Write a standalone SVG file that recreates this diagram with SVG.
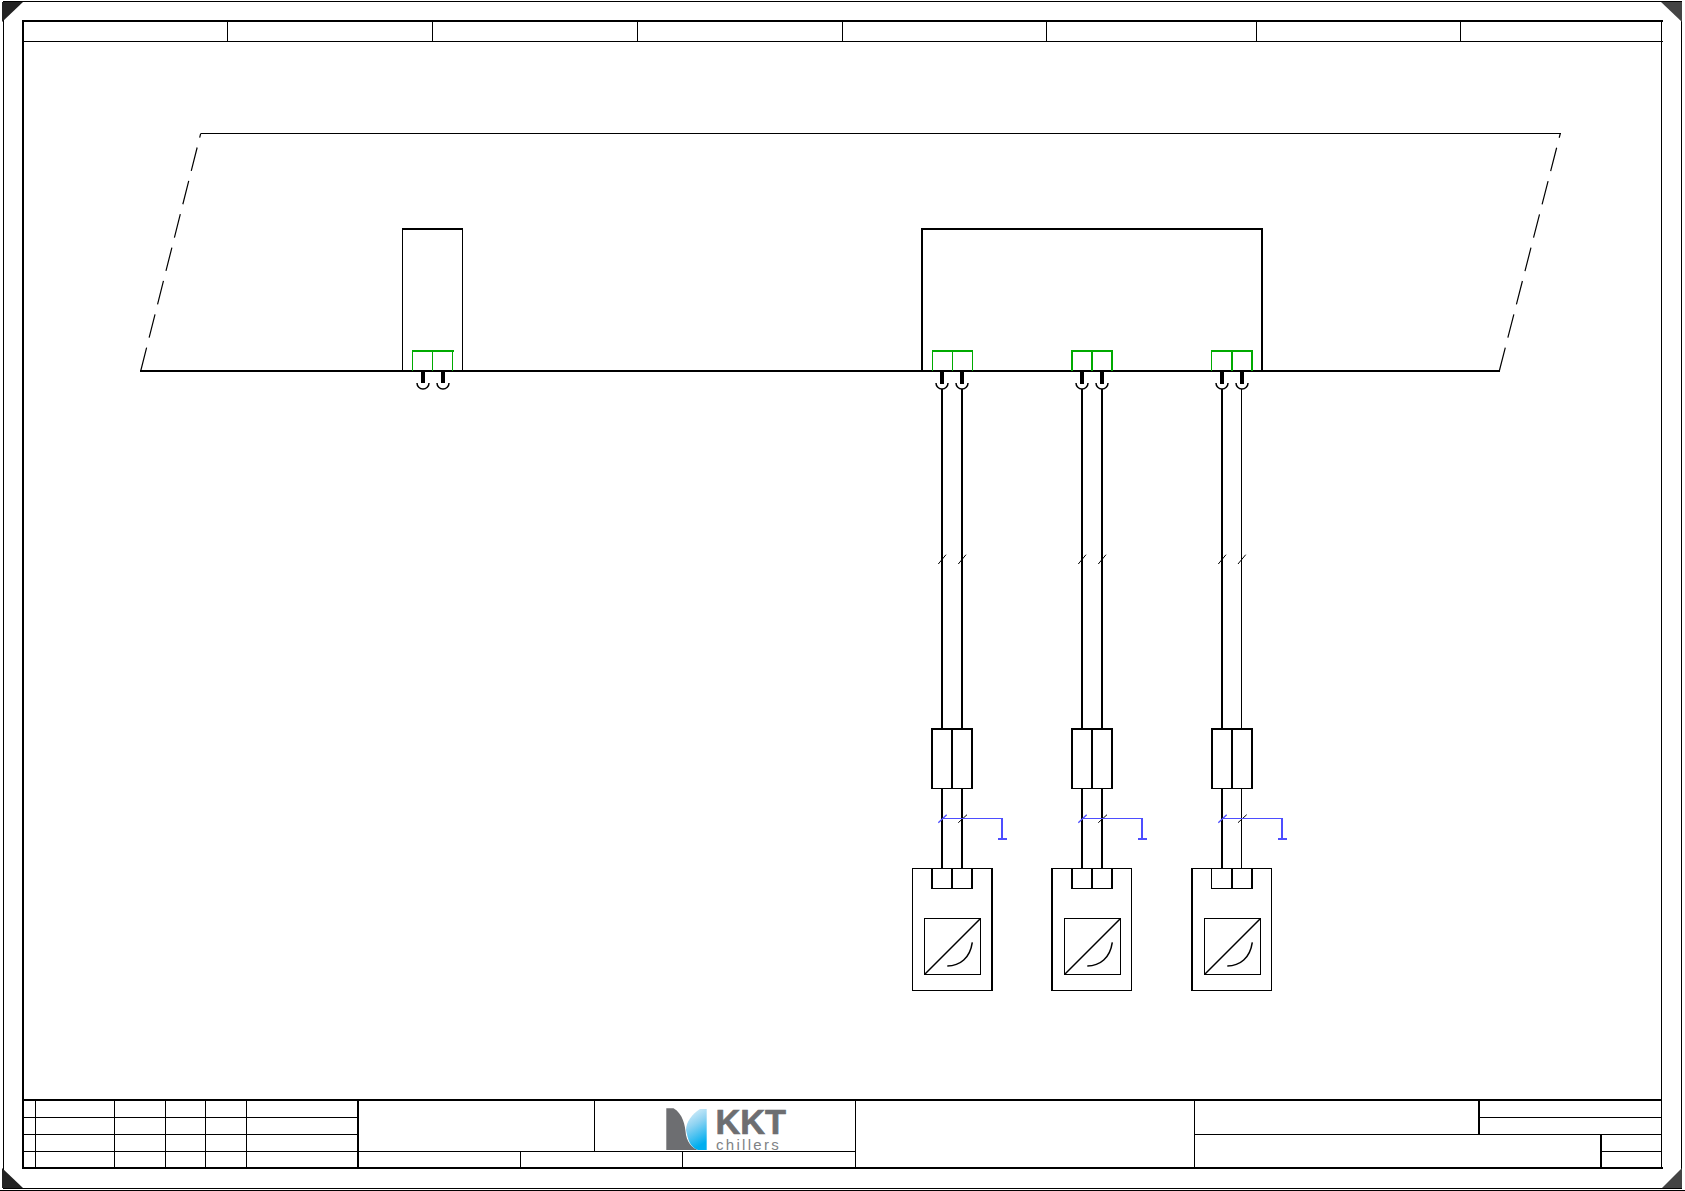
<svg xmlns="http://www.w3.org/2000/svg" width="1685" height="1191" viewBox="0 0 1685 1191">
<style>
.l{stroke:#000;fill:none;stroke-width:1;shape-rendering:crispEdges}
.t{stroke:#000;fill:none;stroke-width:2;shape-rendering:crispEdges}
.g{stroke:#00aa00;fill:none;stroke-width:1;shape-rendering:crispEdges}
.gt{stroke:#00aa00;fill:none;stroke-width:2;shape-rendering:crispEdges}
.b{stroke:#4d4dff;fill:none;stroke-width:2;shape-rendering:crispEdges}
.bn{stroke:#4d4dff;fill:none;stroke-width:1;shape-rendering:crispEdges}
.bs{stroke:#4d4dff;fill:none;stroke-width:1.3}
.s{stroke:#000;fill:none;stroke-width:1}
.c{stroke:#000;fill:none;stroke-width:1.5}
.h{stroke:#000;fill:none;stroke-width:4;shape-rendering:crispEdges}
</style>
<defs>
<linearGradient id="logoBlue" x1="0" y1="0" x2="0.3" y2="1">
<stop offset="0" stop-color="#e6f4fb"/><stop offset="0.45" stop-color="#8fd3f2"/><stop offset="1" stop-color="#00aeef"/>
</linearGradient>
</defs>
<rect width="1685" height="1191" fill="#fff"/>

<g id="sheet-frame">
<path class="l" d="M3.5 2V1188M3 1.5H1682M1681.5 2V1188M3 1188.5H1682M0 1190.5H1685"/>
<path d="M2 2H23L2 22Z" fill="#222"/>
<path d="M1661 2H1682V22Z" fill="#444"/>
<path d="M2 1168L23 1188H2Z" fill="#222"/>
<path d="M1662 1188L1682 1168V1188Z" fill="#444"/>
<path class="t" d="M22 21H1663M23 20V1169M22 1168H1663M22 1100H1662"/>
<path class="l" d="M1661.5 20V1169M23 41.5H1663"/>
<path class="l" d="M227.5 21V42M432.5 21V42M637.5 21V42M842.5 21V42M1046.5 21V42M1256.5 21V42M1460.5 21V42"/>
</g>

<g id="title-block">
<path class="l" d="M23 1117.5H358M23 1134.5H358M23 1151.5H855.5"/>
<path class="l" d="M35.5 1100V1168M114.5 1100V1168M165.5 1100V1168M205.5 1100V1168M246.5 1100V1168"/>
<path class="t" d="M358 1100V1168"/>
<path class="l" d="M594.5 1100V1151M855.5 1100V1168M520.5 1151V1168M682.5 1151V1168M1194.5 1100V1168"/>
<path class="l" d="M1479 1117.5H1662M1194.5 1134.5H1662M1601 1151.5H1662"/>
<path class="t" d="M1479 1100V1134M1601 1134V1168"/>
</g>

<g id="logo">
<path d="M666.3 1108.3H673.5C683 1114 685 1125 686 1135C688 1145 695 1149 698 1150H666.3Z" fill="#6d6e71"/>
<path d="M700 1109H706.7V1150H698C690 1147 688 1140 686 1130C686 1122 692 1114 700 1109Z" fill="url(#logoBlue)"/>
<text x="715.5" y="1134" font-family="'Liberation Sans',Arial,sans-serif" font-weight="700" font-size="34.3" fill="#6d6e71" stroke="#6d6e71" stroke-width="0.7">KKT</text>
<text x="716" y="1150" font-family="'Liberation Sans',Arial,sans-serif" font-size="15" letter-spacing="2.3" fill="#808285">chillers</text>
</g>

<g id="cabinet">
<path class="l" d="M200.5 133.5H1560.5"/>
<path class="t" d="M140 371H1500"/>
<path d="M140.7 371L200.7 133.5" stroke="#000" stroke-width="1.2" fill="none" stroke-dasharray="24.1 10.3"/>
<path d="M1499.3 371L1560.3 133.5" stroke="#000" stroke-width="1.2" fill="none" stroke-dasharray="24.1 10.3"/>
</g>

<g id="module-a">
<path class="t" d="M402 229H463"/>
<path class="l" d="M402.5 229V371M462.5 229V371"/>
</g>

<g id="module-b">
<path class="t" d="M921 229H1263M922 229V371M1262 229V371"/>
</g>

<g id="terminal-a">
<path class="gt" d="M412 351H454"/>
<path class="g" d="M412.5 351V371M432.5 351V371M452.5 351V371"/>
<path class="h" d="M423 372V383M443 372V383"/>
<path class="c" d="M417 383A6 6 0 0 0 429 383M437 383A6 6 0 0 0 449 383"/>
</g>

<g id="terminal-b1">
<path class="gt" d="M932 351H973"/>
<path class="g" d="M932.5 351V371M952.5 351V371M972.5 351V371"/>
<path class="h" d="M942 372V384M962 372V384"/>
<path class="c" d="M936 383A6 6 0 0 0 948 383M956 383A6 6 0 0 0 968 383"/>
</g>

<g id="terminal-b2">
<path class="gt" d="M1071 351H1113M1072 351V371M1092 351V371M1112 351V371"/>
<path class="h" d="M1082 372V384M1102 372V384"/>
<path class="c" d="M1076 383A6 6 0 0 0 1088 383M1096 383A6 6 0 0 0 1108 383"/>
</g>

<g id="terminal-b3">
<path class="gt" d="M1211 351H1253M1232 351V371M1252 351V371"/>
<path class="g" d="M1211.5 351V371"/>
<path class="h" d="M1222 372V384M1242 372V384"/>
<path class="c" d="M1216 383A6 6 0 0 0 1228 383M1236 383A6 6 0 0 0 1248 383"/>
</g>

<g id="connectors">
<path class="t" d="M942 389V729M962 389V729M942 788V869M962 788V869"/>
<path class="t" d="M1082 389V729M1102 389V729M1082 788V869M1102 788V869"/>
<path class="t" d="M1222 389V729M1222 788V869"/>
<path class="l" d="M1241.5 389V729M1241.5 788V869"/>
<path class="s" d="M938.3 564L946 554.7M958.3 564L966 554.7M1078.3 564L1086 554.7M1098.3 564L1106 554.7M1218.3 564L1226 554.7M1238 564L1245.7 554.7"/>
<path class="s" d="M958.3 822.7L967 814.7M1098.3 822.7L1107 814.7M1238 822.7L1246.7 814.7"/>
<path class="bs" d="M938.3 822.7L946.7 814.7M1078.3 822.7L1086.7 814.7M1218.3 822.7L1226.7 814.7"/>
<path class="bn" d="M942 818.5H1003M1082 818.5H1143M1222 818.5H1283"/>
<path class="b" d="M1002 818V838M998 839H1007"/>
<path class="b" d="M1142 818V838M1138 839H1147"/>
<path class="b" d="M1282 818V838M1278 839H1287"/>
</g>

<g id="plug-1">
<path class="t" d="M931 729H973M932 729V788M952 729V788M972 729V788"/>
<path class="l" d="M931 788.5H973"/>
</g>
<g id="plug-2">
<path class="t" d="M1071 729H1113M1072 729V788M1092 729V788M1112 729V788"/>
<path class="l" d="M1071 788.5H1113"/>
</g>
<g id="plug-3">
<path class="t" d="M1211 729H1253M1212 729V788M1232 729V788M1252 729V788"/>
<path class="l" d="M1211 788.5H1253"/>
</g>

<g id="transmitter-1">
<path class="l" d="M912.5 868.5H993M912.5 868V991M912 990.5H993"/>
<path class="t" d="M992 868V991M932 868V888M952 868V888M972 868V888"/>
<path class="l" d="M931 888.5H973"/>
<path class="l" d="M924.5 918.5H980.5V974.5H924.5Z"/>
<path class="c" d="M924.5 974.5L980.5 918.5M972.3 942.3C970 958 960 966 947.3 966"/>
</g>
<g id="transmitter-2">
<path class="l" d="M1052 868.5H1132M1052 990.5H1132M1131.5 868V991"/>
<path class="t" d="M1052 868V991M1072 868V888M1092 868V888M1112 868V888"/>
<path class="l" d="M1071 888.5H1113"/>
<path class="l" d="M1064.5 918.5H1120.5V974.5H1064.5Z"/>
<path class="c" d="M1064.5 974.5L1120.5 918.5M1112.3 942.3C1110 958 1100 966 1087.3 966"/>
</g>
<g id="transmitter-3">
<path class="l" d="M1192 868.5H1272M1192 990.5H1272M1271.5 868V991"/>
<path class="t" d="M1192 868V991M1232 868V888M1252 868V888"/>
<path class="l" d="M1211.5 868V888M1211 888.5H1253"/>
<path class="l" d="M1204.5 918.5H1260.5V974.5H1204.5Z"/>
<path class="c" d="M1204.5 974.5L1260.5 918.5M1252.3 942.3C1250 958 1240 966 1227.3 966"/>
</g>
</svg>
